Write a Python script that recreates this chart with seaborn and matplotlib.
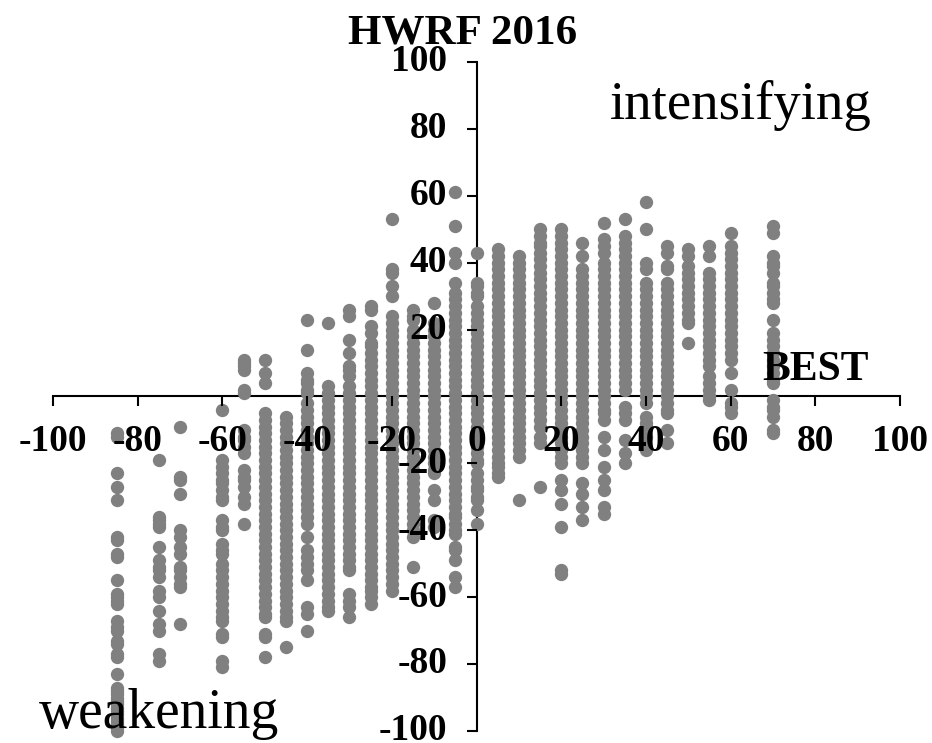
import matplotlib
matplotlib.use("Agg")
import matplotlib.pyplot as plt
from matplotlib.transforms import ScaledTranslation
import seaborn as sns
import pandas as pd

# HWRF intensity change, one list per BEST column
m85 = [-11, -12, -23, -27, -31, -42, -43, -47, -48, -55, -59, -60, -61, -62, -67, -69, -70, -73, -74, -77, -78, -83,
       -87, -88, -89, -90, -91, -92, -93, -94, -95, -96, -97, -98, -99, -100]
m75 = [-19, -36, -37, -38, -39, -45, -49, -51, -52, -54, -58, -60, -64, -68, -70, -77, -79]
m70 = [-9, -24, -25, -29, -40, -42, -45, -47, -51, -52, -54, -56, -57, -68]
m60 = [-4, -19, -21, -23, -25, -26, -28, -30, -31, -37, -39, -40, -44, -46, -47, -50, -52, -54, -56, -58, -60, -62,
       -64, -66, -67, -71, -72, -79, -81]
m55 = [11, 10, 9, 8, 2, 1, -10, -12, -13, -15, -17, -22, -24, -25, -27, -30, -32, -38]
m50 = [11, 7, 4, -5, -7, -9, -11, -13, -15, -17, -19, -21, -23, -25, -27, -29, -31, -33, -35, -37, -39, -41, -43, -45,
       -47, -49, -51, -53, -55, -57, -59, -61, -63, -65, -66, -71, -72, -78]
m45 = [-6, -8, -10, -12, -14, -16, -18, -20, -22, -24, -26, -28, -30, -32, -34, -36, -38, -40, -42, -44, -46, -48,
       -50, -52, -54, -56, -58, -60, -62, -64, -66, -67, -75]
m40 = [23, 14, 7, 5, 4, 2, 1, -2, -4, -6, -8, -10, -12, -14, -16, -18, -20, -22, -24, -26, -28, -30, -32, -34, -36,
       -38, -42, -46, -48, -50, -52, -55, -63, -65, -70]
m35 = [22, 3, 1, -1, -3, -5, -7, -9, -11, -13, -15, -17, -19, -21, -23, -25, -27, -29, -31, -33, -35, -37, -39, -41,
       -43, -45, -47, -49, -51, -53, -55, -57, -59, -61, -63, -64]
m30 = [26, 24, 17, 13, 9, 8, 6, 3, 1, -1, -3, -5, -7, -9, -11, -13, -15, -17, -19, -21, -23, -25, -27, -29, -31, -33,
       -35, -37, -39, -41, -43, -45, -47, -49, -51, -52, -59, -61, -63, -66]
m25 = [27, 26, 21, 19, 16, 15, 13, 11, 9, 7, 5, 3, 1, -1, -3, -5, -7, -9, -11, -13, -15, -17, -19, -21, -23, -25, -27,
       -29, -31, -33, -35, -37, -39, -41, -43, -45, -47, -49, -51, -53, -55, -57, -58, -60, -62]
m20 = [53, 38, 37, 33, 30, 24, 22, 20, 18, 16, 14, 12, 10, 8, 6, 4, 2, 0, -2, -4, -6, -8, -10, -12, -14, -16, -18, -20,
       -22, -24, -26, -28, -30, -32, -34, -36, -38, -40, -42, -44, -46, -48, -50, -52, -54, -56, -58]
m15 = [26, 24, 23, 20, 18, 16, 14, 12, 10, 8, 6, 4, 2, 0, -2, -4, -6, -8, -10, -12, -14, -16, -18, -20, -22, -24, -26,
       -28, -30, -32, -34, -36, -38, -40, -42, -51]
m10 = [28, 22, 20, 18, 16, 14, 12, 10, 8, 6, 4, 2, 0, -2, -4, -6, -8, -10, -12, -14, -16, -18, -20, -22, -23, -28, -31,
       -37, -39]
m5 = [61, 51, 43, 40, 34, 31, 29, 27, 25, 23, 21, 19, 17, 15, 13, 11, 9, 7, 5, 3, 1, -1, -3, -5, -7, -9, -11, -13,
      -15, -17, -19, -21, -23, -25, -27, -29, -31, -33, -35, -36, -38, -40, -41, -45, -46, -49, -54, -57]
p0 = [43, 34, 33, 31, 30, 27, 25, 23, 21, 19, 17, 15, 13, 11, 9, 7, 5, 3, 1, -1, -3, -5, -7, -9, -11, -13, -15, -17,
      -19, -20, -23, -25, -27, -28, -30, -31, -34, -38]
p5 = [44, 42, 40, 38, 36, 34, 32, 30, 28, 26, 24, 22, 20, 18, 16, 14, 12, 10, 8, 6, 4, 2, 0, -2, -4, -6, -8, -10, -12,
      -14, -16, -18, -20, -21, -23, -24]
p10 = [42, 40, 38, 36, 34, 32, 30, 28, 26, 24, 22, 20, 18, 16, 14, 12, 10, 8, 6, 4, 2, 0, -2, -4, -6, -8, -10, -12,
       -14, -16, -18, -31]
p15 = [50, 48, 46, 45, 43, 41, 39, 37, 35, 33, 31, 29, 27, 25, 23, 21, 19, 17, 15, 13, 11, 9, 7, 5, 3, 1, -1, -3, -5,
       -7, -9, -12, -14, -27]
p20 = [50, 48, 46, 44, 42, 40, 38, 36, 34, 32, 30, 28, 26, 24, 22, 20, 18, 16, 14, 12, 10, 8, 6, 4, 2, 0, -2, -4, -6,
       -8, -10, -12, -14, -16, -18, -20, -25, -28, -32, -39, -52, -53]
p25 = [46, 42, 38, 36, 34, 32, 30, 28, 26, 24, 22, 20, 18, 16, 14, 12, 10, 8, 6, 4, 2, 0, -2, -4, -6, -8, -10, -12,
       -14, -16, -18, -20, -26, -29, -33, -37]
p30 = [52, 47, 45, 43, 40, 38, 36, 34, 32, 30, 28, 26, 24, 22, 20, 18, 16, 14, 12, 10, 8, 6, 4, 2, 0, -2, -4, -5, -7,
       -12, -16, -21, -25, -28, -33, -35]
p35 = [53, 48, 46, 44, 42, 40, 38, 36, 34, 32, 30, 28, 26, 24, 22, 20, 18, 16, 14, 12, 10, 8, 6, 4, 2, -3, -5, -7,
       -13, -17, -20]
p40 = [58, 50, 40, 38, 34, 32, 30, 28, 26, 24, 22, 20, 18, 16, 14, 12, 10, 8, 6, 4, 2, 0, -2, -6, -8, -9, -12, -16]
p45 = [45, 43, 39, 38, 34, 32, 30, 28, 26, 24, 22, 20, 18, 16, 14, 12, 10, 8, 6, 4, 2, 0, -2, -4, -5, -10, -14]
p50 = [44, 42, 39, 37, 35, 33, 31, 29, 27, 25, 23, 22, 16]
p55 = [45, 42, 37, 35, 33, 31, 29, 27, 25, 23, 21, 19, 17, 15, 13, 11, 9, 6, 4, 2, 0, -1]
p60 = [49, 45, 43, 41, 39, 37, 35, 33, 31, 29, 27, 25, 23, 21, 19, 17, 15, 13, 11, 7, 2, -2, -3, -5]
p70 = [51, 49, 42, 40, 39, 37, 34, 33, 31, 29, 28, 23, 19, 17, 15, 13, 11, 9, 7, 5, 4, -1, -3, -4, -6, -10, -11]

best_values = [-85, -75, -70, -60, -55, -50, -45, -40, -35, -30, -25, -20, -15, -10, -5, 0, 5, 10, 15, 20, 25, 30, 35,
               40, 45, 50, 55, 60, 70]
hwrf_columns = [m85, m75, m70, m60, m55, m50, m45, m40, m35, m30, m25, m20, m15, m10, m5, p0, p5, p10, p15, p20, p25,
                p30, p35, p40, p45, p50, p55, p60, p70]
axis_ticks = [-100, -80, -60, -40, -20, 0, 20, 40, 60, 80, 100]
y_tick_labels = ['-100', '-80', '-60', '-40', '-20', '0', '20', '40', '60', '80', '100']
x_tick_labels = ['-100', '-80', '-60', '-40', '-20', '0', '20', '40', '60', '80', '100']

rows = []
for best, column in zip(best_values, hwrf_columns):
    for hwrf in column:
        rows.append((best, hwrf))
df = pd.DataFrame(rows, columns=['BEST', 'HWRF'])

sns.set_theme(style='white')
plt.rcParams['font.family'] = ['Liberation Serif', 'DejaVu Serif']
plt.rcParams['text.color'] = 'black'

fig = plt.figure(figsize=(9.32, 7.43), dpi=100)
ax = fig.add_axes([53 / 932, 1 - 731 / 743, 847 / 932, 669 / 743])
sns.scatterplot(data=df, x='BEST', y='HWRF', color='#808080', s=92, linewidth=0, ax=ax, zorder=3, clip_on=False)

ax.set_xlim(-100, 100)
ax.set_ylim(-100, 100)
ax.set_xlabel('')
ax.set_ylabel('')

# axes cross in the middle
ax.spines['left'].set_position(('data', 0))
ax.spines['bottom'].set_position(('data', 0))
ax.spines['top'].set_visible(False)
ax.spines['right'].set_visible(False)
for side in ['left', 'bottom']:
    ax.spines[side].set_color('black')
    ax.spines[side].set_linewidth(1.5)
    ax.spines[side].set_zorder(2)

ax.set_xticks(axis_ticks)
ax.set_yticks(axis_ticks)
ax.set_xticklabels(x_tick_labels, fontsize=27, fontweight='bold', color='black')
ax.set_yticklabels(y_tick_labels, fontsize=27, fontweight='bold', color='black')
ax.tick_params(axis='x', direction='out', length=7, width=1.5, color='black', pad=13, bottom=True)
ax.tick_params(axis='y', direction='out', length=7, width=1.5, color='black', pad=14, left=True)
ax.xaxis.set_zorder(4)
ax.yaxis.set_zorder(4)

# the y labels sit a little high in the original, which also keeps -100 on the canvas
for label in ax.get_yticklabels():
    label.set_transform(label.get_transform() + ScaledTranslation(0, 3 / 72, fig.dpi_scale_trans))
# the 0 of the y axis is the same as the x one, so only one is shown
ax.get_yticklabels()[5].set_visible(False)

ax.text(-3.3, 105.5, 'HWRF 2016', fontsize=31, fontweight='bold', ha='center', va='baseline', zorder=5)
ax.text(80, 5, 'BEST', fontsize=30, fontweight='bold', ha='center', va='baseline', zorder=5)
ax.text(62.3, 83, 'intensifying', fontsize=39.5, ha='center', va='baseline', zorder=5)
ax.text(-103.4, -99, 'weakening', fontsize=40, ha='left', va='baseline', zorder=5)

fig.savefig('out.png', dpi=100)
